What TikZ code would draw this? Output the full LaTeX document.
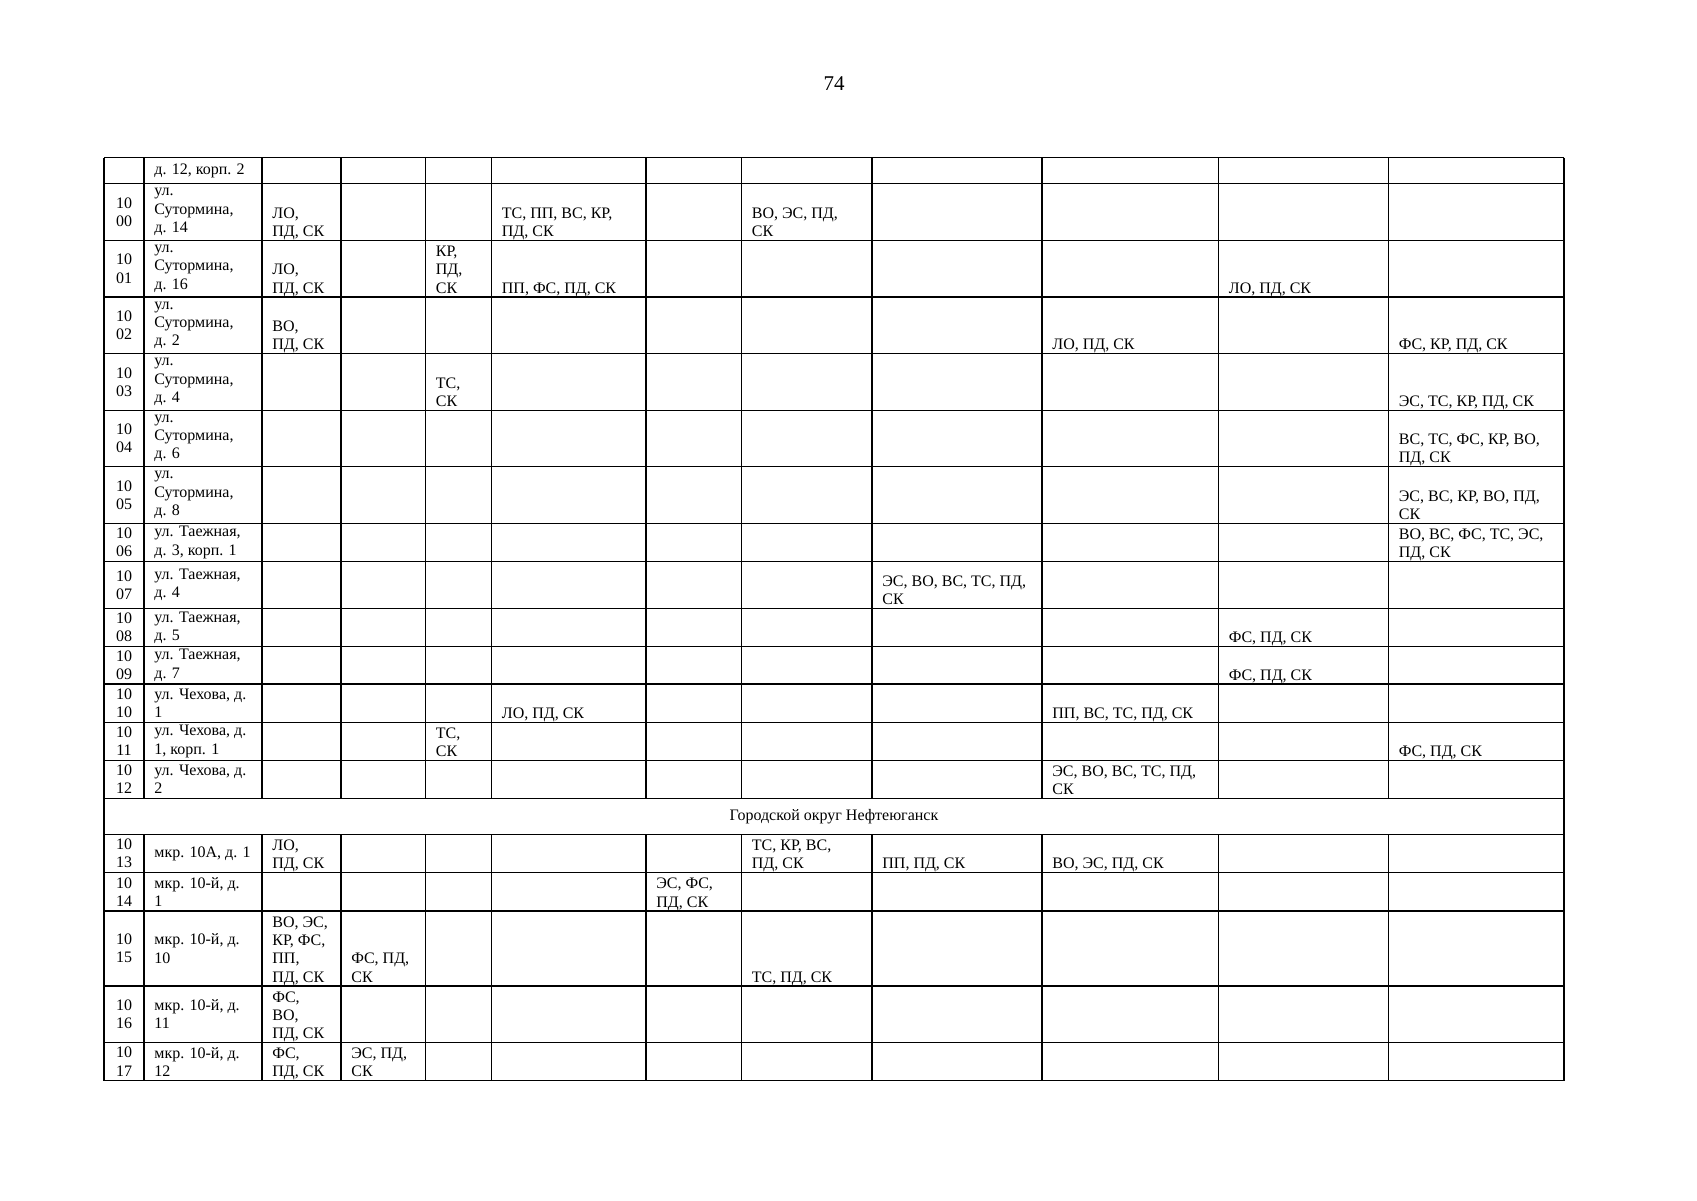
\documentclass[tikz,border=0pt]{standalone}
\usepackage{fontspec}
\setmainfont{Liberation Serif}
\newcommand\tabfont{\fontsize{8}{9.15}\selectfont}
\begin{document}
\begin{tikzpicture}[x=0.5pt,y=-0.5pt,
    zelle/.style={anchor=south west, inner sep=0pt, align=left, font=\tabfont, text depth=0pt},
    adresse/.style={anchor=west, inner sep=0pt, align=left, font=\tabfont},
    nummer/.style={anchor=center, inner sep=0pt, align=center, font=\tabfont}]
    \useasboundingbox (0,0) rectangle (1697,1200);
    %Seitenzahl
    \node (seite) at (834,83.5) [font=\fontsize{10.5}{12}\selectfont]{74};
    %Gitter
    \foreach \y in {157.5,183.7,240.3,297,353.7,410.3,466.7,523.3,561.7,608.3,646.7,684,722.3,760.7,798.3,834.3,872.7,911,986,1042.7,1080.7}
        \draw[line width=0.6pt] (104,\y) -- (1564,\y);
    \draw[line width=0.6pt] (104,157.5) -- (104,1080.7);
    \draw[line width=0.6pt] (1564,157.5) -- (1564,1080.7);
    \foreach \x in {144,262,341,425.5,491.5,646,741.5,872,1042,1218.5,1388.5}{
        \draw[line width=0.6pt] (\x,157.5) -- (\x,798.3);
        \draw[line width=0.6pt] (\x,834.3) -- (\x,1080.7);
    }
    %Zeile davor
    \node (a0999) at (154,170.6) [adresse]{д. 12, корп. 2};
    %1000
    \node (n1000) at (124,212) [nummer]{10\\00};
    \node (a1000) at (154,212) [adresse]{ул.\\Сутормина,\\д. 14};
    \node (z1000c3) at (272,236.7) [zelle]{ЛО,\\ПД, СК};
    \node (z1000c6) at (501.5,236.7) [zelle]{ТС, ПП, ВС, КР,\\ПД, СК};
    \node (z1000c8) at (751.5,236.7) [zelle]{ВО, ЭС, ПД,\\СК};
    %1001
    \node (n1001) at (124,268.65) [nummer]{10\\01};
    \node (a1001) at (154,268.65) [adresse]{ул.\\Сутормина,\\д. 16};
    \node (z1001c3) at (272,293.4) [zelle]{ЛО,\\ПД, СК};
    \node (z1001c5) at (435.5,293.4) [zelle]{КР,\\ПД,\\СК};
    \node (z1001c6) at (501.5,293.4) [zelle]{ПП, ФС, ПД, СК};
    \node (z1001c11) at (1228.5,293.4) [zelle]{ЛО, ПД, СК};
    %1002
    \node (n1002) at (124,325.35) [nummer]{10\\02};
    \node (a1002) at (154,325.35) [adresse]{ул.\\Сутормина,\\д. 2};
    \node (z1002c3) at (272,350.1) [zelle]{ВО,\\ПД, СК};
    \node (z1002c10) at (1052,350.1) [zelle]{ЛО, ПД, СК};
    \node (z1002c12) at (1398.5,350.1) [zelle]{ФС, КР, ПД, СК};
    %1003
    \node (n1003) at (124,382) [nummer]{10\\03};
    \node (a1003) at (154,382) [adresse]{ул.\\Сутормина,\\д. 4};
    \node (z1003c5) at (435.5,406.7) [zelle]{ТС,\\СК};
    \node (z1003c12) at (1398.5,406.7) [zelle]{ЭС, ТС, КР, ПД, СК};
    %1004
    \node (n1004) at (124,438.5) [nummer]{10\\04};
    \node (a1004) at (154,438.5) [adresse]{ул.\\Сутормина,\\д. 6};
    \node (z1004c12) at (1398.5,463.1) [zelle]{ВС, ТС, ФС, КР, ВО,\\ПД, СК};
    %1005
    \node (n1005) at (124,495) [nummer]{10\\05};
    \node (a1005) at (154,495) [adresse]{ул.\\Сутормина,\\д. 8};
    \node (z1005c12) at (1398.5,519.7) [zelle]{ЭС, ВС, КР, ВО, ПД,\\СК};
    %1006
    \node (n1006) at (124,542.5) [nummer]{10\\06};
    \node (a1006) at (154,542.5) [adresse]{ул. Таежная,\\д. 3, корп. 1};
    \node (z1006c12) at (1398.5,558.1) [zelle]{ВО, ВС, ФС, ТС, ЭС,\\ПД, СК};
    %1007
    \node (n1007) at (124,585) [nummer]{10\\07};
    \node (a1007) at (154,585) [adresse]{ул. Таежная,\\д. 4};
    \node (z1007c9) at (882,604.7) [zelle]{ЭС, ВО, ВС, ТС, ПД,\\СК};
    %1008
    \node (n1008) at (124,627.5) [nummer]{10\\08};
    \node (a1008) at (154,627.5) [adresse]{ул. Таежная,\\д. 5};
    \node (z1008c11) at (1228.5,643.1) [zelle]{ФС, ПД, СК};
    %1009
    \node (n1009) at (124,665.35) [nummer]{10\\09};
    \node (a1009) at (154,665.35) [adresse]{ул. Таежная,\\д. 7};
    \node (z1009c11) at (1228.5,680.4) [zelle]{ФС, ПД, СК};
    %1010
    \node (n1010) at (124,703.15) [nummer]{10\\10};
    \node (a1010) at (154,703.15) [adresse]{ул. Чехова, д.\\1};
    \node (z1010c6) at (501.5,718.7) [zelle]{ЛО, ПД, СК};
    \node (z1010c10) at (1052,718.7) [zelle]{ПП, ВС, ТС, ПД, СК};
    %1011
    \node (n1011) at (124,741.5) [nummer]{10\\11};
    \node (a1011) at (154,741.5) [adresse]{ул. Чехова, д.\\1, корп. 1};
    \node (z1011c5) at (435.5,757.1) [zelle]{ТС,\\СК};
    \node (z1011c12) at (1398.5,757.1) [zelle]{ФС, ПД, СК};
    %1012
    \node (n1012) at (124,779.5) [nummer]{10\\12};
    \node (a1012) at (154,779.5) [adresse]{ул. Чехова, д.\\2};
    \node (z1012c10) at (1052,794.7) [zelle]{ЭС, ВО, ВС, ТС, ПД,\\СК};
    %Okrug
    \node (okrug) at (834,816.3) [nummer]{Городской округ Нефтеюганск};
    %1013
    \node (n1013) at (124,853.5) [nummer]{10\\13};
    \node (a1013) at (154,853.5) [adresse]{мкр. 10А, д. 1};
    \node (z1013c3) at (272,869.1) [zelle]{ЛО,\\ПД, СК};
    \node (z1013c8) at (751.5,869.1) [zelle]{ТС, КР, ВС,\\ПД, СК};
    \node (z1013c9) at (882,869.1) [zelle]{ПП, ПД, СК};
    \node (z1013c10) at (1052,869.1) [zelle]{ВО, ЭС, ПД, СК};
    %1014
    \node (n1014) at (124,891.85) [nummer]{10\\14};
    \node (a1014) at (154,891.85) [adresse]{мкр. 10-й, д.\\1};
    \node (z1014c7) at (656,907.4) [zelle]{ЭС, ФС,\\ПД, СК};
    %1015
    \node (n1015) at (124,948.5) [nummer]{10\\15};
    \node (a1015) at (154,948.5) [adresse]{мкр. 10-й, д.\\10};
    \node (z1015c3) at (272,982.4) [zelle]{ВО, ЭС,\\КР, ФС,\\ПП,\\ПД, СК};
    \node (z1015c4) at (351,982.4) [zelle]{ФС, ПД,\\СК};
    \node (z1015c8) at (751.5,982.4) [zelle]{ТС, ПД, СК};
    %1016
    \node (n1016) at (124,1014.35) [nummer]{10\\16};
    \node (a1016) at (154,1014.35) [adresse]{мкр. 10-й, д.\\11};
    \node (z1016c3) at (272,1039.1) [zelle]{ФС,\\ВО,\\ПД, СК};
    %1017
    \node (n1017) at (124,1061.7) [nummer]{10\\17};
    \node (a1017) at (154,1061.7) [adresse]{мкр. 10-й, д.\\12};
    \node (z1017c3) at (272,1077.1) [zelle]{ФС,\\ПД, СК};
    \node (z1017c4) at (351,1077.1) [zelle]{ЭС, ПД,\\СК};
\end{tikzpicture}
\end{document}
